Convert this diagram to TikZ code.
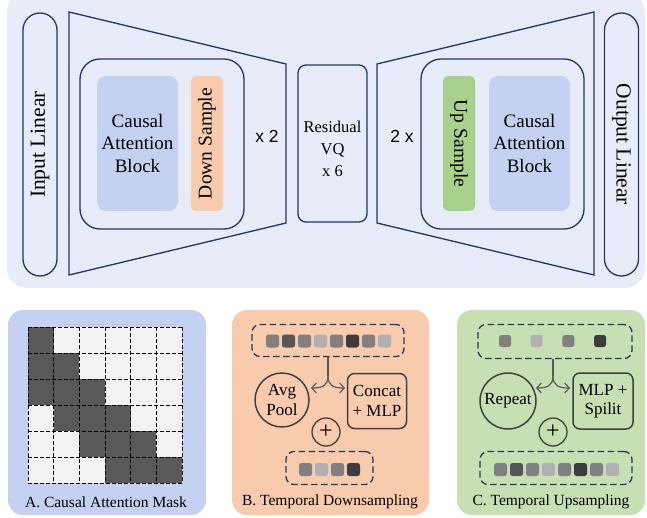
\documentclass[tikz,border=0pt]{standalone}
\usepackage{fontspec}
\setmainfont{Liberation Serif}
\newfontfamily\sansf{Liberation Sans}
\usetikzlibrary{arrows.meta,shapes.misc}
\definecolor{topbg}{HTML}{E8ECF8}
\definecolor{navyc}{HTML}{203864}
\definecolor{blk}{HTML}{C4D1F1}
\definecolor{peach}{HTML}{F8CBAD}
\definecolor{upg}{HTML}{A9D18E}
\definecolor{panc}{HTML}{C6E0B4}
\definecolor{gline}{HTML}{404040}
\definecolor{sqmid}{HTML}{808080}
\definecolor{sqdark}{HTML}{555555}
\definecolor{sqlight}{HTML}{B0B0B0}
\definecolor{sqdarkest}{HTML}{3C3C3C}
\definecolor{cdark}{HTML}{595959}
\definecolor{clight}{HTML}{F2F2F2}
\tikzset{
  navyline/.style={draw=navyc, line width=1.3pt},
  pill/.style={navyline, rounded corners=17pt, minimum width=263pt, minimum height=34pt, inner sep=0pt, font=\fontsize{21.5}{24}\selectfont},
  innerbox/.style={navyline, rounded corners=20pt},
  fillbox/.style={rounded corners=9pt, inner sep=0pt},
  dashbox/.style={draw=navyc, line width=1.3pt, dash pattern=on 6.5pt off 3.5pt, rounded corners=8pt, inner sep=0pt},
  sq/.style={rounded corners=2.5pt, minimum size=13pt, inner sep=0pt},
  gcircle/.style={circle, draw=gline, line width=1.5pt, minimum size=54pt, inner sep=0pt, align=center, font=\fontsize{17}{19.5}\selectfont},
  gbox/.style={draw=gline, line width=1.5pt, rounded corners=7pt, minimum width=59pt, minimum height=55pt, inner sep=0pt, align=center, font=\fontsize{17}{19.5}\selectfont},
  pluscirc/.style={circle, draw=gline, line width=1.3pt, minimum size=28pt, inner sep=0pt, font=\fontsize{24}{24}\selectfont},
  forkarrow/.style={draw=cdark, line width=1.2pt, -{Straight Barb[length=4.5pt,width=10pt]}},
  forkstem/.style={draw=cdark, line width=1.2pt},
  panellabel/.style={font=\fontsize{15.5}{18}\selectfont},
  cell/.style={minimum width=25.67pt, minimum height=26pt, inner sep=0pt},
  gridline/.style={black, line width=1pt, dash pattern=on 4pt off 2pt},
}
\begin{document}
\begin{tikzpicture}[x=1pt,y=-1pt]
\useasboundingbox (0,0) rectangle (647,518);
% ---------- top panel ----------
\begin{scope}
\clip (0,0) rectangle (647,518);
\fill[topbg, rounded corners=20pt] (7,-8) rectangle (645,288);
\end{scope}
\node[pill, rotate=90] (inlin) at (40,144.5) {Input Linear};
\node[pill, rotate=-90] (outlin) at (621.5,144.5) {Output Linear};
% encoder
\draw[navyline] (69,12) -- (286,64) -- (286,223) -- (69,275) -- cycle;
\draw[innerbox] (80,59) rectangle (244,229);
\node[fillbox, fill=blk, minimum width=81pt, minimum height=135pt, align=center, font=\fontsize{19}{22.5}\selectfont] (encatt) at (137.5,143.5) {Causal\\Attention\\Block};
\node[fillbox, fill=peach, rounded corners=5pt, minimum width=135pt, minimum height=32pt, rotate=90, font=\fontsize{19.5}{22}\selectfont] (down) at (207,143.5) {Down Sample};
\node[font=\sansf\fontsize{17.5}{20}\selectfont] (x2) at (267,136) {x 2};
% residual VQ
\node[navyline, rounded corners=8pt, minimum width=69pt, minimum height=157pt, inner sep=0pt] (rvq) at (332.5,143.5) {};
\node[align=center, font=\fontsize{16.5}{22}\selectfont] (rvqtext) at (332.5,149) {Residual\\VQ\\x 6};
% decoder
\draw[navyline] (377,64) -- (594,12) -- (594,275) -- (377,223) -- cycle;
\draw[innerbox] (421,59) rectangle (584,229);
\node[fillbox, fill=upg, rounded corners=5pt, minimum width=135pt, minimum height=32pt, rotate=-90, font=\fontsize{19.5}{22}\selectfont] (up) at (459,143.5) {Up Sample};
\node[fillbox, fill=blk, minimum width=81pt, minimum height=135pt, align=center, font=\fontsize{19}{22.5}\selectfont] (decatt) at (529.5,143.5) {Causal\\Attention\\Block};
\node[font=\sansf\fontsize{17.5}{20}\selectfont] (x2b) at (402,136) {2 x};
% ---------- panel A ----------
\fill[blk, rounded corners=15pt] (8,310) rectangle (206,515);
\foreach \i in {0,...,5}{
  \foreach \j in {0,...,5}{
    \pgfmathtruncatemacro{\dk}{(\j<=\i) && (\j>=\i-2) ? 1 : 0}
    \ifnum\dk=1
      \node[cell, fill=cdark] (c\i\j) at ({28+25.67*\j+12.83},{327+26*\i+13}) {};
    \else
      \node[cell, fill=clight] (c\i\j) at ({28+25.67*\j+12.83},{327+26*\i+13}) {};
    \fi
  }
}
\foreach \k in {0,...,6}{
  \draw[gridline] ({28+25.67*\k},327) -- ({28+25.67*\k},483);
  \draw[gridline] (28,{327+26*\k}) -- (182,{327+26*\k});
}
\node[panellabel] (labA) at (106,502) {A. Causal Attention Mask};
% ---------- panel B ----------
\fill[peach, rounded corners=15pt] (232,310) rectangle (429,515);
\node[dashbox, minimum width=152pt, minimum height=32pt] (btop) at (328,340.5) {};
\foreach \c [count=\n from 0] in {sqmid,sqdark,sqmid,sqlight,sqmid,sqdarkest,sqmid,sqlight}{
  \node[sq, fill=\c] (bt\n) at ({272.5+16*\n},341) {};
}
\node[gcircle] (avg) at (282,400) {Avg\\Pool};
\node[gbox] (concat) at (377,401) {Concat\\+ MLP};
\node[pluscirc] (bplus) at (326,432) {+};
\node[dashbox, minimum width=87pt, minimum height=33pt] (bbot) at (329.5,468) {};
\foreach \c [count=\n from 0] in {sqmid,sqlight,sqmid,sqdarkest}{
  \node[sq, fill=\c] (bb\n) at ({305.5+16*\n},469.5) {};
}
\coordinate (bfork) at (328,376);
\coordinate (bleft) at (311,388);
\coordinate (bright) at (345,388);
\draw[forkstem] (btop.south) -- (bfork);
\draw[forkarrow] (bfork) .. controls (328,386) and (322,388) .. (bleft);
\draw[forkarrow] (bfork) .. controls (328,386) and (334,388) .. (bright);
\node[panellabel] (labB) at (330,502) {B. Temporal Downsampling};
% ---------- panel C ----------
\fill[panc, rounded corners=15pt] (457,310) rectangle (645,515);
\node[dashbox, minimum width=154pt, minimum height=34pt] (ctop) at (555,341.5) {};
\foreach \c [count=\n from 0] in {sqmid,sqlight,sqmid,sqdarkest}{
  \node[sq, minimum size=12pt, fill=\c] (ct\n) at ({505+31.7*\n},341) {};
}
\node[gcircle, minimum size=56pt] (rep) at (508,401) {Repeat};
\node[gbox, minimum width=60pt, minimum height=56pt] (mlp) at (603,401) {MLP +\\Spilit};
\node[pluscirc] (cplus) at (553,432) {+};
\node[dashbox, minimum width=152pt, minimum height=33pt] (cbot) at (556,468) {};
\foreach \c [count=\n from 0] in {sqmid,sqdark,sqmid,sqlight,sqmid,sqdarkest,sqmid,sqlight}{
  \node[sq, fill=\c] (cb\n) at ({500.5+16*\n},469.5) {};
}
\coordinate (cfork) at (553,376);
\coordinate (cleft) at (536,388);
\coordinate (cright) at (570,388);
\draw[forkstem] (ctop.south -| cfork) -- (cfork);
\draw[forkarrow] (cfork) .. controls (553,386) and (547,388) .. (cleft);
\draw[forkarrow] (cfork) .. controls (553,386) and (559,388) .. (cright);
\node[panellabel] (labC) at (551,502) {C. Temporal Upsampling};
\end{tikzpicture}
\end{document}
